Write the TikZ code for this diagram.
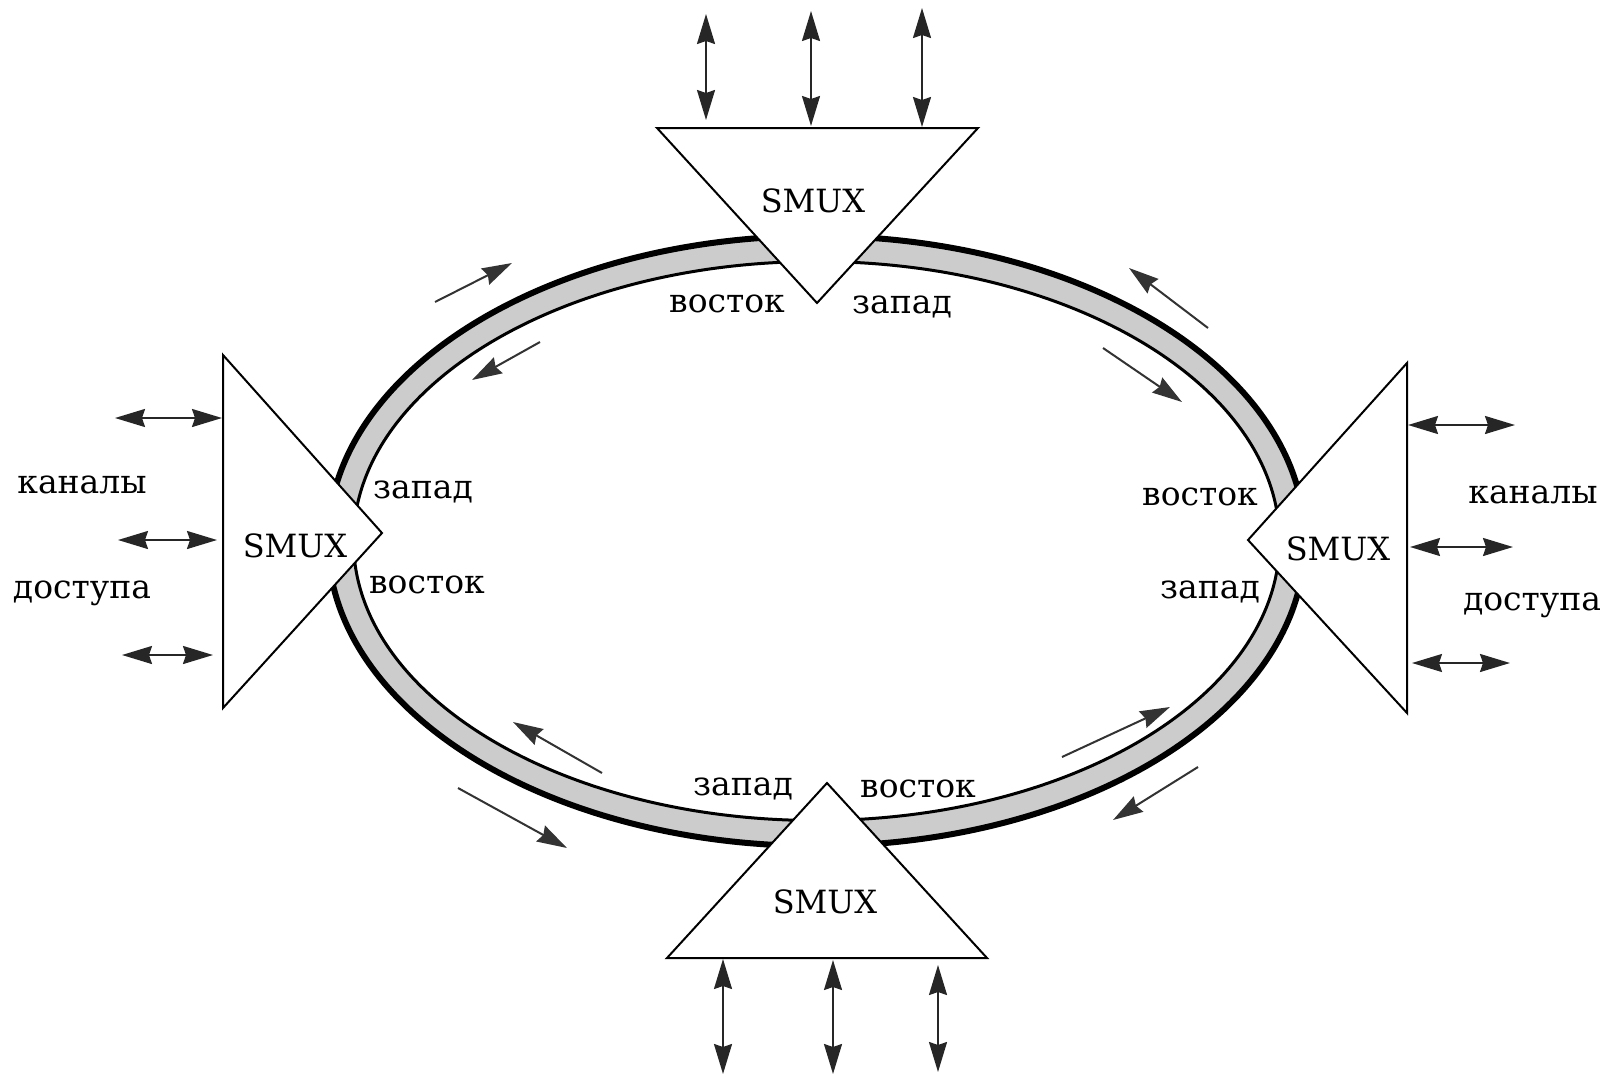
\documentclass[tikz,border=0pt]{standalone}
\usepackage{fontspec}
\setmainfont{DejaVu Serif}
\usetikzlibrary{arrows.meta}
\begin{document}
\begin{tikzpicture}[x=0.5pt,y=-0.5pt,
  every node/.style={inner sep=0pt,outer sep=0pt},
  mux/.style={draw=black,fill=white,line width=1pt,line join=miter},
  muxlabel/.style={anchor=base,font=\fontsize{16}{18}\selectfont},
  side/.style={anchor=base,font=\fontsize{16.5}{19}\selectfont},
  tribarrow/.style={draw=black!85,line width=1pt,
    {Stealth[length=15pt,width=9pt,inset=1.5pt]}-{Stealth[length=15pt,width=9pt,inset=1.5pt]}},
  flowarrow/.style={draw=black!80,line width=1pt,
    -{Stealth[length=15pt,width=9pt,inset=1.5pt]}},
  ringfill/.style={fill=black!20},
]
\useasboundingbox (0,0) rectangle (1616,1076);

% ---- ring: grey band between a heavy outer line and a thin inner line ----
\coordinate (ringc) at (816.5,541);
\fill[ringfill,even odd rule]
  (ringc) ellipse [x radius=244.25pt, y radius=152.5pt]
  (ringc) ellipse [x radius=231.5pt, y radius=139.75pt];
\draw[line width=3pt] (ringc) ellipse [x radius=244.25pt, y radius=152.5pt];
\draw[line width=1.5pt] (ringc) ellipse [x radius=231.5pt, y radius=139.75pt];

% ---- multiplexers ----
% top
\coordinate (tA) at (657,128); \coordinate (tB) at (978,128); \coordinate (tC) at (817,303);
\draw[mux] (tA) -- (tB) -- (tC) -- cycle;
\node[muxlabel] (smuxT) at (813,212) {SMUX};
% left
\coordinate (lA) at (223,355); \coordinate (lB) at (223,708); \coordinate (lC) at (382,533);
\draw[mux] (lA) -- (lC) -- (lB) -- cycle;
\node[muxlabel] (smuxL) at (295,557) {SMUX};
% right
\coordinate (rA) at (1407,363); \coordinate (rB) at (1407,713); \coordinate (rC) at (1248,540);
\draw[mux] (rA) -- (rC) -- (rB) -- cycle;
\node[muxlabel] (smuxR) at (1338,560) {SMUX};
% bottom
\coordinate (bA) at (667,958); \coordinate (bB) at (987,958); \coordinate (bC) at (827,783);
\draw[mux] (bA) -- (bC) -- (bB) -- cycle;
\node[muxlabel] (smuxB) at (825,913) {SMUX};

% ---- tributary (access) channels ----
\coordinate (t1a) at (706,120); \coordinate (t1b) at (706,14);
\coordinate (t2a) at (811,126); \coordinate (t2b) at (811,11);
\coordinate (t3a) at (922,127); \coordinate (t3b) at (922,8);
\draw[tribarrow] (t1a) -- (t1b);
\draw[tribarrow] (t2a) -- (t2b);
\draw[tribarrow] (t3a) -- (t3b);

\coordinate (l1a) at (222,418); \coordinate (l1b) at (115,418);
\coordinate (l2a) at (217,540); \coordinate (l2b) at (118,540);
\coordinate (l3a) at (213,655); \coordinate (l3b) at (122,655);
\draw[tribarrow] (l1a) -- (l1b);
\draw[tribarrow] (l2a) -- (l2b);
\draw[tribarrow] (l3a) -- (l3b);

\coordinate (r1a) at (1408,425); \coordinate (r1b) at (1515,425);
\coordinate (r2a) at (1410,547); \coordinate (r2b) at (1513,547);
\coordinate (r3a) at (1412,663); \coordinate (r3b) at (1510,663);
\draw[tribarrow] (r1a) -- (r1b);
\draw[tribarrow] (r2a) -- (r2b);
\draw[tribarrow] (r3a) -- (r3b);

\coordinate (b1a) at (723,959); \coordinate (b1b) at (723,1074);
\coordinate (b2a) at (833,960); \coordinate (b2b) at (833,1074);
\coordinate (b3a) at (938,965); \coordinate (b3b) at (938,1072);
\draw[tribarrow] (b1a) -- (b1b);
\draw[tribarrow] (b2a) -- (b2b);
\draw[tribarrow] (b3a) -- (b3b);

% ---- traffic direction along the ring ----
\coordinate (f1a) at (435,302);  \coordinate (f1b) at (512,263);
\coordinate (f2a) at (540,342);  \coordinate (f2b) at (472,380);
\coordinate (f3a) at (1208,328); \coordinate (f3b) at (1129,268);
\coordinate (f4a) at (1103,348); \coordinate (f4b) at (1182,402);
\coordinate (f5a) at (1062,757); \coordinate (f5b) at (1170,707);
\coordinate (f6a) at (1198,767); \coordinate (f6b) at (1113,820);
\coordinate (f7a) at (602,773);  \coordinate (f7b) at (513,722);
\coordinate (f8a) at (458,788);  \coordinate (f8b) at (567,848);
\foreach \i in {1,...,8} \draw[flowarrow] (f\i a) -- (f\i b);

% ---- port labels ----
\node[side] (tE) at (727,312) {восток};
\node[side] (tW) at (902,313) {запад};
\node[side] (lW) at (423,498) {запад};
\node[side] (lE) at (427,593) {восток};
\node[side] (rE) at (1200,505) {восток};
\node[side] (rW) at (1210,598) {запад};
\node[side] (bW) at (743,795) {запад};
\node[side] (bE) at (918,797) {восток};

% ---- access channel captions ----
\node[side] (lK) at (82,493) {каналы};
\node[side] (lD) at (82,598) {доступа};
\node[side] (rK) at (1533,503) {каналы};
\node[side] (rD) at (1532,610) {доступа};
\end{tikzpicture}
\end{document}
